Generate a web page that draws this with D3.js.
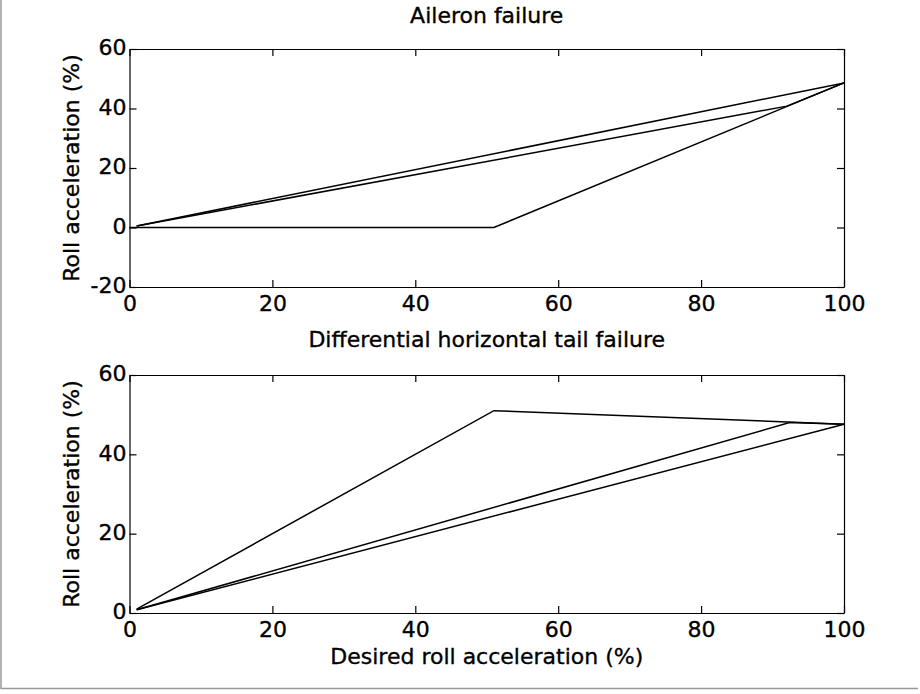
<!DOCTYPE html>
<html>
<head>
<meta charset="utf-8">
<script src="https://cdn.jsdelivr.net/npm/d3@7"></script>
<style>
  body { margin: 0; background: #fff; }
  text { font-family: "DejaVu Sans", sans-serif; fill: #000; stroke: #000; stroke-width: 0.35px; }
</style>
</head>
<body>
<div id="chart"></div>
<script>
// titles and labels
var titles = ["Aileron failure", "Differential horizontal tail failure"];
var xLabel = "Desired roll acceleration (%)";
var yLabel = "Roll acceleration (%)";

// tick values
var xTicks = [0, 20, 40, 60, 80, 100];
var topYTicks = [-20, 0, 20, 40, 60];
var bottomYTicks = [0, 20, 40, 60];

// aileron failure: desired (x) vs achieved (y), three allocation cases
var aileronDesired1 = [1, 100];
var aileronAchieved1 = [0.5, 48.6];
var aileronDesired2 = [1, 92, 100];
var aileronAchieved2 = [0.5, 40.8, 48.6];
var aileronDesired3 = [0, 51, 100];
var aileronAchieved3 = [0, 0, 48.6];

// differential horizontal tail failure
var tailDesired1 = [1, 51, 100];
var tailAchieved1 = [1, 51, 47.6];
var tailDesired2 = [1, 92.4, 100];
var tailAchieved2 = [0.8, 48, 47.6];
var tailDesired3 = [1, 100];
var tailAchieved3 = [0.8, 47.6];

var width = 920, height = 694;
var fontSize = 22, tickLen = 7;

var svg = d3.select("#chart")
  .append("svg")
    .attr("width", width)
    .attr("height", height);

// page frame (left + bottom edge)
svg.append("path")
  .attr("d", "M1,0 V688.5 H918")
  .attr("fill", "none")
  .attr("stroke", "#999")
  .attr("stroke-width", 1.5);

function zip(xs, ys) {
  return xs.map(function(x, i) { return [x, ys[i]]; });
}

// plain hyphen for negatives, like the original
function fmt(d) { return String(d); }

function drawPanel(opts) {
  var x = d3.scaleLinear().domain([0, 100]).range([opts.left, opts.right]);
  var y = d3.scaleLinear().domain(opts.yDomain).range([opts.bottom, opts.top]);
  var g = svg.append("g");

  // bottom axis with labels, ticks pointing inward
  g.append("g")
    .attr("transform", "translate(0," + opts.bottom + ")")
    .call(d3.axisBottom(x).tickValues(xTicks).tickSize(-tickLen).tickSizeOuter(0).tickPadding(8).tickFormat(fmt));
  // top axis, ticks only
  g.append("g")
    .attr("transform", "translate(0," + opts.top + ")")
    .call(d3.axisTop(x).tickValues(xTicks).tickSize(-tickLen).tickSizeOuter(0).tickFormat(""));
  // left axis with labels
  g.append("g")
    .attr("transform", "translate(" + opts.left + ",0)")
    .call(d3.axisLeft(y).tickValues(opts.yTicks).tickSize(-tickLen).tickSizeOuter(0).tickPadding(3).tickFormat(fmt));
  // right axis, ticks only
  g.append("g")
    .attr("transform", "translate(" + opts.right + ",0)")
    .call(d3.axisRight(y).tickValues(opts.yTicks).tickSize(-tickLen).tickSizeOuter(0).tickFormat(""));

  g.selectAll(".domain, .tick line").attr("stroke", "#000").attr("stroke-width", 1.2);
  g.selectAll(".tick text")
    .attr("font-size", fontSize)
    .attr("font-family", "DejaVu Sans, sans-serif")
    .attr("fill", "#000");
  g.selectAll(".tick text").filter(function() { return d3.select(this).attr("dy") === "0.32em"; })
    .attr("dy", "0.26em");

  var line = d3.line()
    .x(function(d) { return x(d[0]); })
    .y(function(d) { return y(d[1]); });

  g.selectAll("path.series")
    .data(opts.series)
    .enter()
    .append("path")
      .attr("class", "series")
      .attr("d", line)
      .attr("fill", "none")
      .attr("stroke", "#000")
      .attr("stroke-width", 1.5);

  // title
  g.append("text")
    .attr("x", (opts.left + opts.right) / 2)
    .attr("y", opts.titleY)
    .attr("text-anchor", "middle")
    .attr("font-size", fontSize)
    .text(opts.title);

  // y label
  g.append("text")
    .attr("transform", "translate(79," + (opts.top + opts.bottom) / 2 + ") rotate(-90)")
    .attr("text-anchor", "middle")
    .attr("font-size", fontSize)
    .text(yLabel);

  if (opts.xLabel) {
    g.append("text")
      .attr("x", (opts.left + opts.right) / 2)
      .attr("y", 664)
      .attr("text-anchor", "middle")
      .attr("font-size", fontSize)
      .text(opts.xLabel);
  }
}

drawPanel({
  left: 129.5, right: 844, top: 49, bottom: 287,
  yDomain: [-20, 60], yTicks: topYTicks,
  title: titles[0], titleY: 22.5,
  series: [zip(aileronDesired1, aileronAchieved1),
           zip(aileronDesired2, aileronAchieved2),
           zip(aileronDesired3, aileronAchieved3)]
});

drawPanel({
  left: 129.5, right: 844, top: 375, bottom: 613,
  yDomain: [0, 60], yTicks: bottomYTicks,
  title: titles[1], titleY: 347,
  xLabel: xLabel,
  series: [zip(tailDesired1, tailAchieved1),
           zip(tailDesired2, tailAchieved2),
           zip(tailDesired3, tailAchieved3)]
});
</script>
</body>
</html>
